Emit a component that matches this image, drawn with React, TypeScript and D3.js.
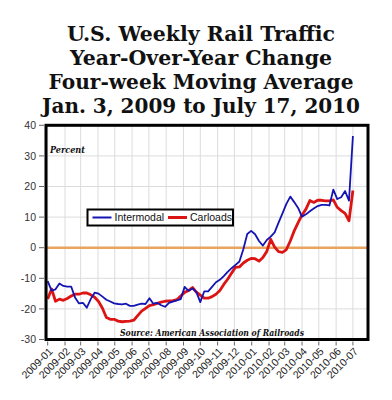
import * as d3 from "d3";

// four-week moving average, % change vs. prior year, one value per week
const intermodal = [
  -10.9, -14, -13.6, -11.7, -12.5, -12.7, -12.7, -16.3, -18.2, -18,
  -19.6, -16.8, -14.7, -15, -16, -17, -17.6, -18.2, -18.4, -18.5,
  -18.3, -19, -19, -18.6, -18.3, -18.4, -16.5, -18.3, -18, -18.8,
  -19.3, -18, -17.6, -17.2, -16.8, -12.8, -14.1, -13.3, -14.5, -17.8,
  -14.3, -14.3, -12.8, -11.3, -10.5, -9.3, -7.9, -6.7, -5.6, -4.5,
  -0.5, 4.5, 5.5, 4.4, 2.2, 0.7, 2.5, 3.6, 5, 8.2,
  11.2, 14.3, 16.7, 14.9, 13, 10.1, 10.9, 11.9, 12.8, 13.6,
  14, 14, 13.8, 19, 15.9, 16.5, 18.5, 15.4, 36.5,
];

const carloads = [
  -16.8, -13.5, -17.5, -16.8, -17.2, -16.6, -15.8, -15.2, -15.2, -14.8,
  -14.8, -15.4, -16.2, -17.6, -19.8, -22.8, -23.4, -23.4, -24, -24.2,
  -24.1, -24, -23.7, -22.2, -20.7, -19.8, -18.9, -18.6, -18.2, -17.8,
  -17.5, -17.4, -17.3, -17, -15.8, -14.6, -14, -13, -14.5, -15.5,
  -16.5, -16.5, -16, -15.2, -14, -12, -10.3, -8.3, -6.4, -6.3,
  -5, -4.1, -3.5, -3.6, -4.4, -3.2, -1.2, 2.7, 0.2, -1.3,
  -1.5, -0.6, 2.2, 5.5, 8.2, 10.7, 12.6, 15.4, 14.8, 15.5,
  15.5, 15.3, 15.3, 15.6, 13.2, 12.1, 11.2, 8.8, 18.7,
];

const monthLabels = [
  "2009-01", "2009-02", "2009-03", "2009-04", "2009-05", "2009-06",
  "2009-07", "2009-08", "2009-09", "2009-10", "2009-11", "2009-12",
  "2010-01", "2010-02", "2010-03", "2010-04", "2010-05", "2010-06",
  "2010-07",
];

const yTicks = [40, 30, 20, 10, 0, -10, -20, -30];

const titleLines = [
  "U.S. Weekly Rail Traffic",
  "Year-Over-Year Change",
  "Four-week Moving Average",
  "Jan. 3, 2009 to July 17, 2010",
];

const seriesNames = ["Intermodal", "Carloads"];

const start = new Date(2009, 0, 1);
const weeks = intermodal.map((_, i) => d3.timeDay.offset(start, i * 7));
const parseMonth = d3.timeParse("%Y-%m");

export default function App() {
  const width = 392;
  const height = 400;
  const left = 46;
  const right = 368;
  const top = 125.3;
  const bottom = 339.5;

  const x = d3
    .scaleTime()
    .domain([new Date(2008, 11, 29), new Date(2010, 6, 28)])
    .range([left, right]);

  const y = d3.scaleLinear().domain([-30, 40]).range([bottom, top]);

  const line = d3
    .line<number>()
    .x((_, i) => x(weeks[i]))
    .y((d) => y(d));

  const sans = "'Liberation Sans', Arial, sans-serif";
  const serif = "'DejaVu Serif', Georgia, serif";
  const titleWidths = [268, 262, 305, 318];

  return (
    <svg
      width={width}
      height={height}
      style={{ position: "absolute", left: 0, top: 0, background: "#fff" }}
    >
      {/* title */}
      {titleLines.map((t, i) => (
        <text
          key={t}
          x={201}
          y={40.5 + i * 24.2}
          textAnchor="middle"
          fontFamily={serif}
          fontWeight="bold"
          fontSize={19.5}
          textLength={titleWidths[i]}
          lengthAdjust="spacingAndGlyphs"
          fill="#111"
        >
          {t}
        </text>
      ))}

      {/* grid */}
      {monthLabels.map((m) => (
        <line
          key={m}
          x1={x(parseMonth(m)!)}
          x2={x(parseMonth(m)!)}
          y1={top}
          y2={bottom}
          stroke="#dcdcdc"
          strokeWidth={1}
        />
      ))}
      {yTicks.map((t) => (
        <line
          key={t}
          x1={left}
          x2={right}
          y1={y(t)}
          y2={y(t)}
          stroke="#dcdcdc"
          strokeWidth={1}
        />
      ))}

      {/* zero line */}
      <line
        x1={left}
        x2={right}
        y1={y(0)}
        y2={y(0)}
        stroke="#e9a45f"
        strokeWidth={2.5}
      />

      {/* y axis */}
      {yTicks.map((t) => (
        <g key={t}>
          <line x1={39} x2={44} y1={y(t)} y2={y(t)} stroke="#666" />
          <text
            x={36}
            y={y(t)}
            dy="0.35em"
            textAnchor="end"
            fontFamily={sans}
            fontSize={10.5}
            fill="#333"
          >
            {t}
          </text>
        </g>
      ))}

      {/* x axis */}
      {monthLabels.map((m) => {
        const px = x(parseMonth(m)!);
        return (
          <g key={m}>
            <line x1={px} x2={px} y1={bottom + 2} y2={bottom + 6} stroke="#666" />
            <text
              transform={`translate(${px + 3},${bottom + 10}) rotate(-45)`}
              textAnchor="end"
              dy="0.35em"
              fontFamily={sans}
              fontSize={10.5}
              fill="#222"
            >
              {m}
            </text>
          </g>
        );
      })}

      {/* series */}
      <path
        d={line(carloads) ?? ""}
        fill="none"
        stroke="#dd1414"
        strokeWidth={2.8}
        strokeLinejoin="round"
      />
      <path
        d={line(intermodal) ?? ""}
        fill="none"
        stroke="#1414b4"
        strokeWidth={1.8}
        strokeLinejoin="round"
      />

      {/* labels */}
      <text
        x={50}
        y={152.5}
        fontFamily={serif}
        fontStyle="italic"
        fontWeight="bold"
        fontSize={9}
        textLength={35}
        lengthAdjust="spacingAndGlyphs"
        fill="#111"
      >
        Percent
      </text>
      <text
        x={120}
        y={336}
        fontFamily={serif}
        fontStyle="italic"
        fontWeight="bold"
        fontSize={9}
        textLength={184}
        lengthAdjust="spacingAndGlyphs"
        fill="#111"
      >
        Source: American Association of Railroads
      </text>

      {/* legend */}
      <rect
        x={87.5}
        y={209.5}
        width={145.5}
        height={16}
        fill="#fff"
        stroke="#000"
        strokeWidth={2}
      />
      <line x1={92.5} x2={111.5} y1={217.5} y2={217.5} stroke="#1414b4" strokeWidth={2} />
      <text x={114.5} y={217.5} dy="0.35em" fontFamily={sans} fontSize={10.5} fill="#111">
        {seriesNames[0]}
      </text>
      <line x1={168} x2={187} y1={217.5} y2={217.5} stroke="#dd1414" strokeWidth={3} />
      <text x={190} y={217.5} dy="0.35em" fontFamily={sans} fontSize={10.5} fill="#111">
        {seriesNames[1]}
      </text>

      {/* frame */}
      <rect
        x={left}
        y={top}
        width={right - left}
        height={bottom - top}
        fill="none"
        stroke="#000"
        strokeWidth={3}
      />
    </svg>
  );
}
